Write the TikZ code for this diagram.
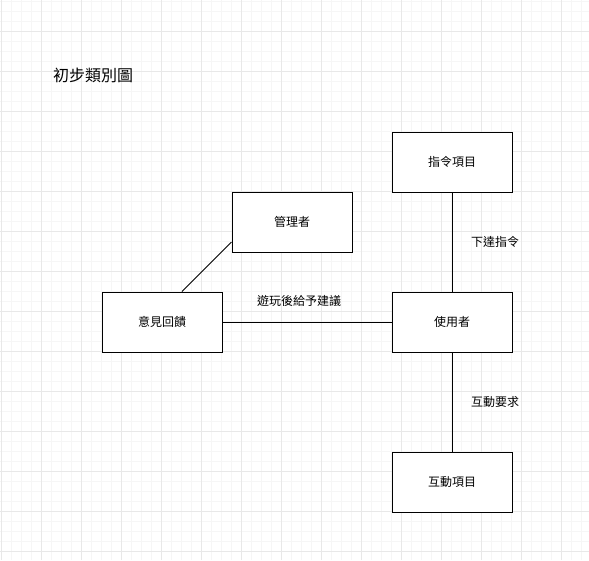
\documentclass[tikz,border=0pt]{standalone}
\usepackage{fontspec}
\newfontfamily\cjk{Noto Sans CJK TC}
\usetikzlibrary{positioning}
\definecolor{gridminor}{HTML}{F6F6F6}
\definecolor{gridmajor}{HTML}{E8E8E8}

\begin{document}
\begin{tikzpicture}[x=1pt, y=-1pt, classbox/.style={shape=rectangle, draw, fill=white, minimum width=120pt, minimum height=60pt, inner sep=0, font=\cjk\fontsize{12}{14}\selectfont}, tag/.style={inner sep=0, font=\cjk\fontsize{12}{14}\selectfont}, line width=1pt]
				% background grid
				\fill[white] (0,0) rectangle (589,560);
				\useasboundingbox (0,0) rectangle (589,560);
				\foreach \x in {1.5,11.5,...,581.5} \draw[gridminor] (\x,0) -- (\x,560);
				\foreach \y in {1.5,11.5,...,551.5} \draw[gridminor] (0,\y) -- (589,\y);
				\foreach \x in {1.5,41.5,...,561.5} \draw[gridmajor] (\x,0) -- (\x,560);
				\foreach \y in {31.5,71.5,...,551.5} \draw[gridmajor] (0,\y) -- (589,\y);
				% classes
				\node[tag, font=\cjk\fontsize{16}{19}\selectfont] (title) at (93,75) {初步類別圖};
				\node[classbox] (admin) at (292,222) {管理者};
				\node[classbox] (feedback) at (162,322) {意見回饋};
				\node[classbox] (command) at (452,162) {指令項目};
				\node[classbox] (user) at (452,322) {使用者};
				\node[classbox] (interact) at (452,482) {互動項目};
				\draw[-] ([xshift=20pt]feedback.north) to ([yshift=-20pt]admin.west);
				\draw[-] (feedback) to (user);
				\draw[-] (command) to (user);
				\draw[-] (user) to (interact);
				\node[tag] (advise) at (299,301) {遊玩後給予建議};
				\node[tag] (order) at (495,242) {下達指令};
				\node[tag] (request) at (495,402) {互動要求};
			\end{tikzpicture}
\end{document}
